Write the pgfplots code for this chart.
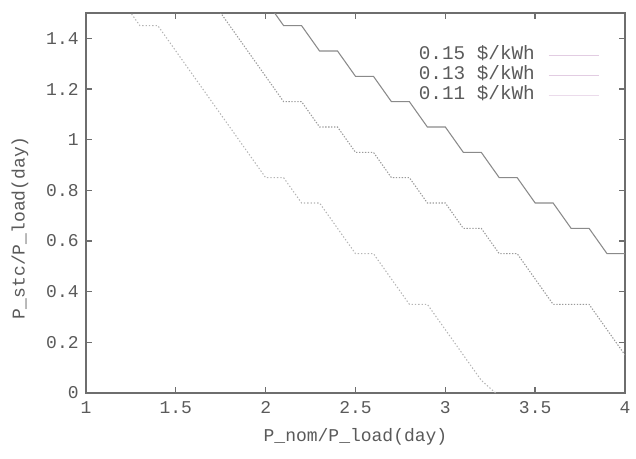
\documentclass[border=0pt]{standalone}
\usepackage{fontspec}
\setmainfont{Liberation Mono}
\usepackage{pgfplots}
\pgfplotsset{compat=1.18}

\definecolor{frame}{HTML}{6E6E6E}
\definecolor{txt}{HTML}{5A5A5A}
\definecolor{cA}{HTML}{8A8A8A}
\definecolor{cB}{HTML}{9A9A9A}
\definecolor{cC}{HTML}{B4B4B4}
\definecolor{leg}{HTML}{E2CCE2}

\begin{document}
\begin{tikzpicture}
\begin{axis}[
    scale only axis,
    width=404.25pt, height=285pt,
    xmin=1, xmax=4, ymin=0, ymax=1.5,
    xtick={1,1.5,2,2.5,3,3.5,4},
    ytick={0,0.2,0.4,0.6,0.8,1,1.2,1.4},
    xticklabels={1,1.5,2,2.5,3,3.5,4},
    yticklabels={0,0.2,0.4,0.6,0.8,1,1.2,1.4},
    tick align=inside,
    major tick length=4.5pt,
    axis line style={frame, line width=1.5pt},
    every tick/.style={frame, line width=1pt},
    tick label style={font=\fontsize{13.5}{15}\selectfont, text=txt},
    xticklabel style={yshift=-3pt},
    yticklabel style={xshift=-2pt},
    label style={font=\fontsize{13.5}{15}\selectfont, text=txt},
    xlabel={P\_nom/P\_load(day)},
    ylabel={P\_stc/P\_load(day)},
    xlabel style={at={(axis description cs:0.5,-0.1158)}, anchor=center},
    ylabel style={at={(axis description cs:-0.1224,0.434)}, anchor=center},
    legend cell align=right,
    legend plot pos=right,
    legend style={draw=none, fill=none, at={(axis cs:3.88,1.385)}, anchor=north east,
        font=\fontsize{14.5}{15}\selectfont, text=txt, row sep=0pt,
        nodes={inner sep=1pt, text height=10pt, text depth=3pt}},
]
\addplot[cA, line width=0.8pt,
    legend image code/.code={\path (0pt,0pt); \draw[solid, draw=leg, line width=0.7pt] (9pt,0pt) -- (46.5pt,0pt);}]
coordinates {(2.0,1.55) (2.1,1.45) (2.2,1.45) (2.3,1.35) (2.4,1.35) (2.5,1.25) (2.6,1.25)
 (2.7,1.15) (2.8,1.15) (2.9,1.05) (3.0,1.05) (3.1,0.95) (3.2,0.95) (3.3,0.85) (3.4,0.85)
 (3.5,0.75) (3.6,0.75) (3.7,0.65) (3.8,0.65) (3.9,0.55) (4.0,0.55)};
\addlegendentry{0.15 \$/kWh}
\addplot[cB, line width=0.8pt, dash pattern=on 1pt off 1.2pt,
    legend image code/.code={\path (0pt,0pt); \draw[solid, draw=leg, line width=0.7pt] (9pt,0pt) -- (46.5pt,0pt);}]
coordinates {(1.7,1.55) (2.1,1.15) (2.2,1.15) (2.3,1.05) (2.4,1.05) (2.5,0.95) (2.6,0.95)
 (2.7,0.85) (2.8,0.85) (2.9,0.75) (3.0,0.75) (3.1,0.65) (3.2,0.65) (3.3,0.55) (3.4,0.55)
 (3.6,0.35) (3.8,0.35) (4.0,0.15)};
\addlegendentry{0.13 \$/kWh}
\addplot[cC, line width=0.8pt, dash pattern=on 1pt off 1.5pt,
    legend image code/.code={\path (0pt,0pt); \draw[solid, draw=leg!70, line width=0.7pt] (9pt,0pt) -- (46.5pt,0pt);}]
coordinates {(1.2,1.55) (1.3,1.45) (1.4,1.45) (2.0,0.85) (2.1,0.85) (2.2,0.75) (2.3,0.75)
 (2.5,0.55) (2.6,0.55) (2.8,0.35) (2.9,0.35) (3.2,0.05) (3.28,0.0)};
\addlegendentry{0.11 \$/kWh}
\end{axis}
\path (-64.5pt,-48.75pt) rectangle (412.5pt,294.75pt);
\end{tikzpicture}
\end{document}
